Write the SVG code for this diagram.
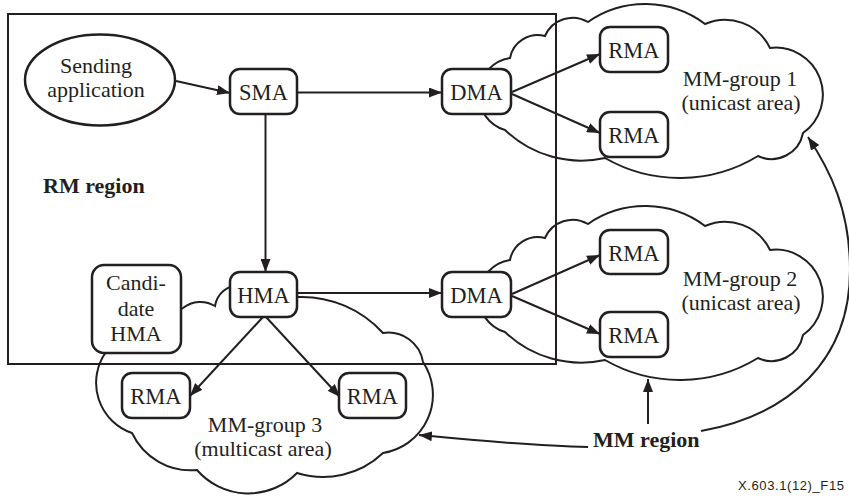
<svg xmlns="http://www.w3.org/2000/svg" width="849" height="497" viewBox="0 0 849 497">
<defs>
<style>
.box{fill:#fff;stroke:#231f20;stroke-width:2.5}
.t{font-family:"Liberation Serif","Times New Roman",serif;font-size:22px;fill:#231f20;text-anchor:middle}
.n{font-size:22.5px}
.b{font-weight:bold;text-anchor:start}
.c{fill:none;stroke:#231f20;stroke-width:2}
.ln{fill:none;stroke:#231f20;stroke-width:2;marker-end:url(#ah)}
.f{font-family:"Liberation Sans",Arial,sans-serif;font-size:13px;fill:#231f20;letter-spacing:0.6px}
</style>
<marker id="ah" viewBox="0 0 13 10" refX="13" refY="5" markerWidth="13" markerHeight="10" markerUnits="userSpaceOnUse" orient="auto">
<path d="M0,0 L13,5 L0,10 Z" fill="#231f20"/>
</marker>
<path id="cloudA" d="M 505 130 A 37 37 0 0 1 510 58 A 28 28 0 0 1 545 36 A 30 30 0 0 1 588 22 A 100 100 0 0 1 705 24 A 50 50 0 0 1 770 48 A 47 47 0 0 1 803 133 A 32 32 0 0 1 758 156 A 150 150 0 0 1 605 158 A 110 110 0 0 1 505 130 Z"/>
</defs>
<g id="rm-region">
<rect x="8" y="14" width="548" height="350" class="c"/>
<text x="43" y="193" class="t b">RM region</text>
</g>
<g id="mm-group-1">
<use href="#cloudA" class="c"/>
<text x="740" y="86" class="t">MM-group 1</text>
<text x="741" y="110" class="t">(unicast area)</text>
</g>
<g id="mm-group-2">
<use href="#cloudA" class="c" transform="translate(0,202)"/>
<text x="740" y="286" class="t">MM-group 2</text>
<text x="741" y="310" class="t">(unicast area)</text>
</g>
<g id="mm-group-3">
<path class="c" d="M 183 308 A 28 28 0 0 1 215 306 A 25 25 0 0 1 240 285 L 290 285 L 298 297 A 110 110 0 0 1 383 333 A 35 35 0 0 1 423 362 A 59 59 0 0 1 383 453 A 87 87 0 0 1 297 473 A 68 68 0 0 1 197 470 A 65 65 0 0 1 132 433 A 53 53 0 0 1 106 352 Z"/>
<text x="265" y="432" class="t">MM-group 3</text>
<text x="263" y="456" class="t">(multicast area)</text>
</g>
<g id="connectors">
<path class="ln" d="M 176 81 L 230 93"/>
<path class="ln" d="M 297 92.5 L 442 92.5"/>
<path class="ln" d="M 512 92 L 600 54"/>
<path class="ln" d="M 512 94 L 600 133"/>
<path class="ln" d="M 265.5 114 L 265.5 272"/>
<path class="ln" d="M 297 293 L 442 293"/>
<path class="ln" d="M 512 294 L 600 255"/>
<path class="ln" d="M 512 296 L 600 334"/>
<path class="ln" d="M 263 317 L 190 396"/>
<path class="ln" d="M 266 317 L 340 397"/>
<path class="ln" d="M 648 424 L 648 379"/>
<path class="ln" d="M 588 447 C 530 446 470 440 419 435"/>
<path class="ln" d="M 701 431 C 790 415 850 360 850 270 C 850 210 830 170 808 137"/>
</g>
<g id="sending-application">
<ellipse cx="100" cy="80" rx="75" ry="45.5" class="box"/>
<text x="96" y="73" class="t">Sending</text>
<text x="96" y="97" class="t">application</text>
</g>
<g id="sma"><rect x="230" y="69" width="67" height="45" rx="10" class="box"/><text x="263.5" y="100" class="t n">SMA</text></g>
<g id="dma-1"><rect x="442" y="69" width="69" height="45" rx="10" class="box"/><text x="476.5" y="100" class="t n">DMA</text></g>
<g id="rma-1"><rect x="600" y="27" width="68" height="45" rx="10" class="box"/><text x="634" y="58" class="t n">RMA</text></g>
<g id="rma-2"><rect x="600" y="112" width="68" height="45" rx="10" class="box"/><text x="634" y="143" class="t n">RMA</text></g>
<g id="candidate-hma"><rect x="92" y="265" width="89" height="88" rx="12" class="box"/><text x="136" y="290" class="t">Candi-</text><text x="136" y="316" class="t">date</text><text x="136" y="341" class="t">HMA</text></g>
<g id="hma"><rect x="230" y="272" width="67" height="45" rx="10" class="box"/><text x="263.5" y="303" class="t n">HMA</text></g>
<g id="dma-2"><rect x="442" y="272" width="69" height="45" rx="10" class="box"/><text x="476.5" y="303" class="t n">DMA</text></g>
<g id="rma-3"><rect x="600" y="230" width="68" height="44" rx="10" class="box"/><text x="634" y="261" class="t n">RMA</text></g>
<g id="rma-4"><rect x="600" y="312" width="68" height="45" rx="10" class="box"/><text x="634" y="343" class="t n">RMA</text></g>
<g id="rma-5"><rect x="122" y="373" width="68" height="45" rx="10" class="box"/><text x="156" y="404" class="t n">RMA</text></g>
<g id="rma-6"><rect x="339" y="373" width="67" height="45" rx="10" class="box"/><text x="372.5" y="404" class="t n">RMA</text></g>
<g id="mm-region"><text x="593" y="447" class="t b">MM region</text></g>
<text x="738" y="490" class="f">X.603.1(12)_F15</text>
</svg>
